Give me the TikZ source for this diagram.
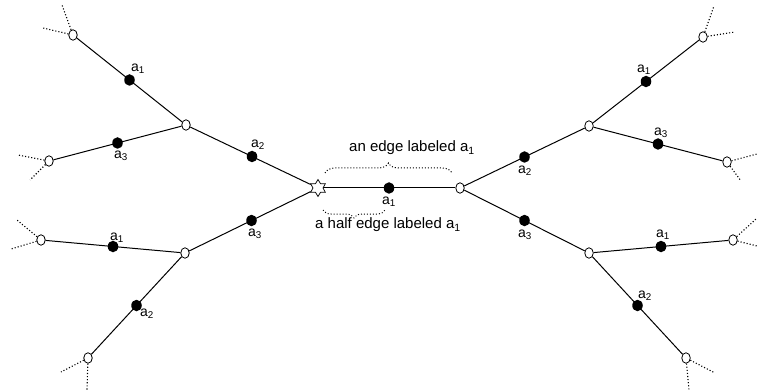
\documentclass[tikz,border=0pt]{standalone}
\usepackage{fontspec}
\setmainfont{Liberation Sans}
\usetikzlibrary{shapes.geometric,decorations.pathreplacing,calc}
\begin{document}
\begin{tikzpicture}[x=1pt,y=-1pt,
  vtx/.style={ellipse,draw,fill=white,inner sep=0pt,minimum width=8.5pt,minimum height=10.5pt,line width=0.8pt},
  blk/.style={ellipse,fill=black,inner sep=0pt,minimum width=10.5pt,minimum height=11.5pt},
  rootstar/.style={star,star points=6,star point ratio=1.7,draw,fill=white,inner sep=0pt,minimum size=17pt,line width=0.7pt,shape border rotate=0},
  lnk/.style={line width=1pt},
  stub/.style={dotted,line width=1.1pt},
  lab/.style={font=\fontsize{14}{16}\selectfont,inner sep=0pt},
  note/.style={font=\fontsize{15}{18}\selectfont,inner sep=0pt},
  bracket/.style={decorate,dotted,line width=1pt}]
\useasboundingbox (0,0) rectangle (757,390);

% central edge: star root and its white partner
\node[rootstar] (s) at (318,188) {};
\node[vtx] (c) at (460,188) {};

% left side vertices
\node[vtx] (lu) at (186,125) {};
\node[vtx] (ll) at (185,253) {};
\node[vtx] (lu1) at (73,35) {};
\node[vtx] (lu3) at (49,161) {};
\node[vtx] (ll1) at (41,240) {};
\node[vtx] (ll2) at (88,358) {};

% right side vertices
\node[vtx] (ru) at (589,126) {};
\node[vtx] (rl) at (589,253) {};
\node[vtx] (ru1) at (703,37) {};
\node[vtx] (ru3) at (727,162) {};
\node[vtx] (rl1) at (733,240) {};
\node[vtx] (rl2) at (686,358) {};

% solid edges
\draw[lnk] (s) -- (c);
\draw[lnk] (s) -- (lu);
\draw[lnk] (s) -- (ll);
\draw[lnk] (lu) -- (lu1);
\draw[lnk] (lu) -- (lu3);
\draw[lnk] (ll) -- (ll1);
\draw[lnk] (ll) -- (ll2);
\draw[lnk] (c) -- (ru);
\draw[lnk] (c) -- (rl);
\draw[lnk] (ru) -- (ru1);
\draw[lnk] (ru) -- (ru3);
\draw[lnk] (rl) -- (rl1);
\draw[lnk] (rl) -- (rl2);

% dotted half edges leaving the outer vertices
\coordinate (lu1a) at (62,5);   \coordinate (lu1b) at (43,28);
\coordinate (lu3a) at (18,155); \coordinate (lu3b) at (30,180);
\coordinate (ll1a) at (17,220); \coordinate (ll1b) at (11,249);
\coordinate (ll2a) at (61,372); \coordinate (ll2b) at (87,390);
\coordinate (ru1a) at (714,6);  \coordinate (ru1b) at (735,32);
\coordinate (ru3a) at (757,154);\coordinate (ru3b) at (741,181);
\coordinate (rl1a) at (756,219);\coordinate (rl1b) at (757,246);
\coordinate (rl2a) at (715,373);\coordinate (rl2b) at (689,390);
\foreach \v in {lu1,lu3,ll1,ll2,ru1,ru3,rl1,rl2}{
  \draw[stub] (\v) -- (\v a);
  \draw[stub] (\v) -- (\v b);
}

% black midpoints carrying the labels
\node[blk] (m)   at ($(s)!0.5!(c)$) {};
\node[blk] (mlu) at ($(s)!0.5!(lu)$) {};
\node[blk] (mll) at ($(s)!0.5!(ll)$) {};
\node[blk] (mlu1) at ($(lu)!0.5!(lu1)$) {};
\node[blk] (mlu3) at ($(lu)!0.5!(lu3)$) {};
\node[blk] (mll1) at ($(ll)!0.5!(ll1)$) {};
\node[blk] (mll2) at ($(ll)!0.5!(ll2)$) {};
\node[blk] (mru) at ($(c)!0.5!(ru)$) {};
\node[blk] (mrl) at ($(c)!0.5!(rl)$) {};
\node[blk] (mru1) at ($(ru)!0.5!(ru1)$) {};
\node[blk] (mru3) at ($(ru)!0.5!(ru3)$) {};
\node[blk] (mrl1) at ($(rl)!0.5!(rl1)$) {};
\node[blk] (mrl2) at ($(rl)!0.5!(rl2)$) {};

% edge labels
\node[lab] (tm)    at (389,202) {a\textsubscript{1}};
\node[lab] (tmlu)  at (258,145) {a\textsubscript{2}};
\node[lab] (tmll)  at (255,234) {a\textsubscript{3}};
\node[lab] (tmlu1) at (138,69)  {a\textsubscript{1}};
\node[lab] (tmlu3) at (121,156) {a\textsubscript{3}};
\node[lab] (tmll1) at (117,238) {a\textsubscript{1}};
\node[lab] (tmll2) at (147,314) {a\textsubscript{2}};
\node[lab] (tmru)  at (525,171) {a\textsubscript{2}};
\node[lab] (tmrl)  at (525,235) {a\textsubscript{3}};
\node[lab] (tmru1) at (644,70)  {a\textsubscript{1}};
\node[lab] (tmru3) at (661,133) {a\textsubscript{3}};
\node[lab] (tmrl1) at (663,235) {a\textsubscript{1}};
\node[lab] (tmrl2) at (645,296) {a\textsubscript{2}};

% braces marking an edge and a half edge
\coordinate (b1l) at (325,173); \coordinate (b1r) at (452,173);
\draw[bracket,decoration={brace,amplitude=10pt}] (b1l) -- (b1r);
\node[note] (n1) at (412,148) {an edge labeled a\textsubscript{1}};
\coordinate (b2l) at (323,210); \coordinate (b2r) at (385,210);
\draw[bracket,decoration={brace,mirror,amplitude=8pt}] (b2l) -- (b2r);
\node[note] (n2) at (388,225) {a half edge labeled a\textsubscript{1}};
\end{tikzpicture}
\end{document}
